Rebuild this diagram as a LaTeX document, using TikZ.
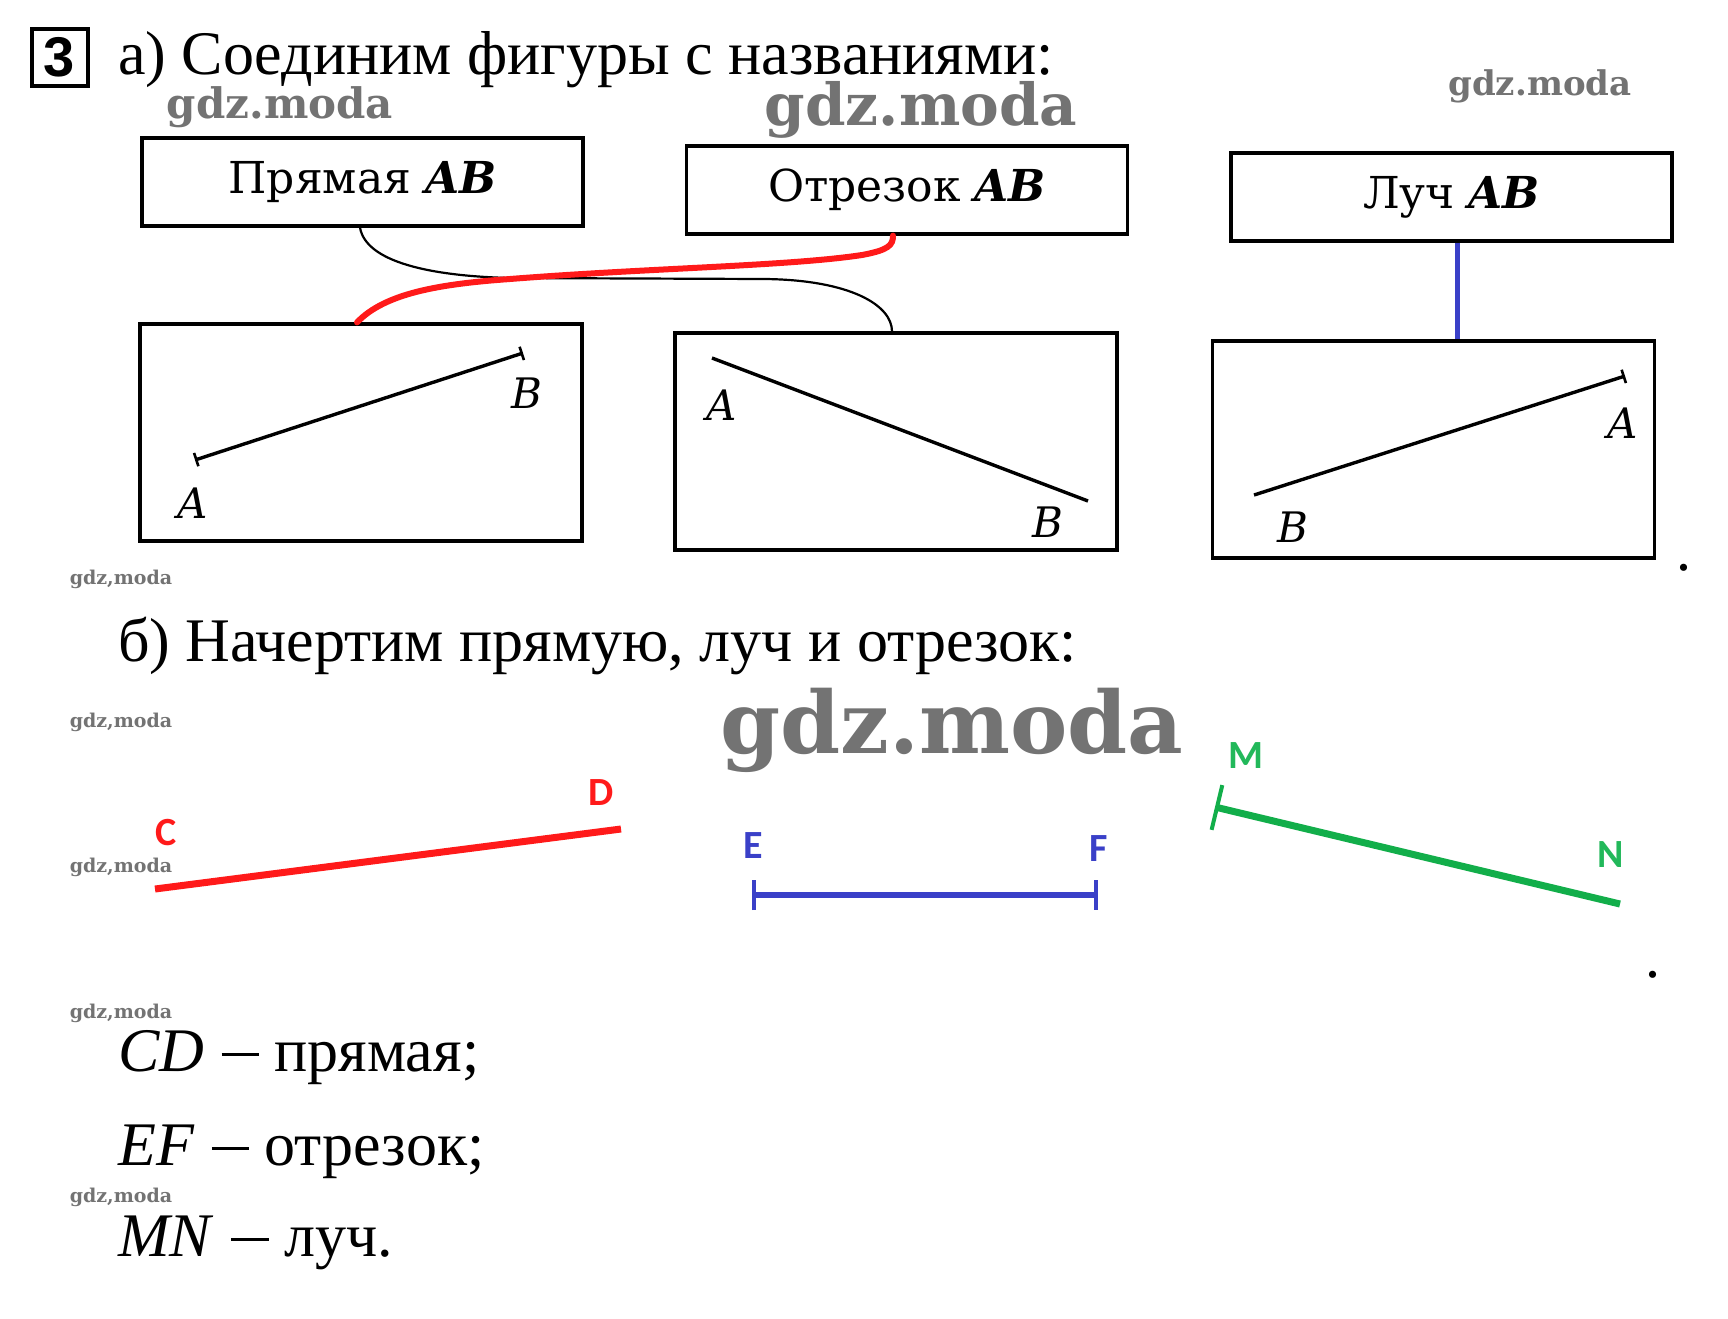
\documentclass[tikz,border=0pt]{standalone}
\usepackage{fontspec}
\setmainfont{Liberation Serif}
\newfontfamily\bookfont{DejaVu Serif}
\newfontfamily\labfont{Carlito}
\newfontfamily\numfont{Liberation Sans}
\usetikzlibrary{arrows.meta,calc}
\definecolor{penred}{HTML}{FF1A1A}
\definecolor{penblue}{HTML}{3A40C8}
\definecolor{pengreen}{HTML}{12AE4A}
\definecolor{labgreen}{HTML}{22B85A}
\definecolor{wmgray}{gray}{0.45}
\newcommand{\longdash}{\hspace{0.28em}\rule[0.24em]{0.6em}{0.045em}\hspace{0.25em}}
\tikzset{
  namebox/.style={draw, line width=3.2pt, minimum width=441pt, minimum height=88pt, inner sep=0pt,
    font=\bookfont\fontsize{44}{50}\selectfont},
  picbox/.style={draw, line width=3.2pt, minimum width=442pt, minimum height=217pt, inner sep=0pt},
  ptlab/.style={font=\bookfont\itshape\fontsize{42}{48}\selectfont, inner sep=0pt},
  colab/.style={font=\labfont\bfseries\fontsize{40}{46}\selectfont, inner sep=0pt},
  figline/.style={line width=3.4pt},
  wire/.style={line width=2.2pt},
  wm/.style={font=\bookfont\bfseries, text=wmgray, inner sep=0pt},
  bigtext/.style={anchor=base west, inner sep=0pt, font=\fontsize{62}{72}\selectfont},
}
\begin{document}
\begin{tikzpicture}[x=1pt,y=-1pt]
\useasboundingbox (0,0) rectangle (1728,1318);
\fill[white] (0,0) rectangle (1728,1318);

% heading
\node[draw, line width=4pt, minimum width=56pt, minimum height=57pt, inner sep=0pt,
  font=\numfont\bfseries\fontsize{56}{60}\selectfont] (num) at (59.5,57) {3};
\node[bigtext] (title) at (118,74) {а) Соединим фигуры с названиями:};

% name boxes
\node[namebox] (b1) at (362.5,182) {Прямая \textbf{\textit{AB}}};
\node[namebox] (b2) at (907,190) {Отрезок \textbf{\textit{AB}}};
\node[namebox] (b3) at (1451.5,197) {Луч \textbf{\textit{AB}}};

% picture boxes
\node[picbox] (b4) at (361,432.5) {};
\node[picbox] (b5) at (896,441.5) {};
\node[picbox] (b6) at (1433.5,449.5) {};

% box 4 : segment
\coordinate (p4a) at (195,460);
\coordinate (p4b) at (523,353);
\draw[figline, {Bar[width=14pt,line width=2.6pt]}-{Bar[width=14pt,line width=2.6pt]}] (p4a) -- (p4b);
\node[ptlab] (l4a) at (193,503) {A};
\node[ptlab] (l4b) at (527,393) {B};

% box 5 : line
\coordinate (p5a) at (712,358);
\coordinate (p5b) at (1088,501);
\draw[figline] (p5a) -- (p5b);
\node[ptlab] (l5a) at (722,405) {A};
\node[ptlab] (l5b) at (1048,522) {B};

% box 6 : ray
\coordinate (p6b) at (1254,495);
\coordinate (p6a) at (1625,376);
\draw[figline, -{Bar[width=14pt,line width=2.6pt]}] (p6b) -- (p6a);
\node[ptlab] (l6a) at (1623,423) {A};
\node[ptlab] (l6b) at (1293,527) {B};

% connectors
\coordinate (kx1) at (360,0);
\coordinate (kx5) at (892,0);
\draw[wire] (b1.south -| kx1) .. controls (366,262) and (430,276) .. (510,278)
  -- (765,279) .. controls (850,280) and (892,305) .. (b5.north -| kx5);
\coordinate (rx4) at (357,0);
\coordinate (rx2) at (893,0);
\draw[penred, line width=6pt, line cap=round] (b4.north -| rx4) .. controls (385,293) and (440,284) .. (510,279)
  .. controls (650,268) and (790,266) .. (862,255) .. controls (889,250) and (893,245) .. (b2.south -| rx2);
\coordinate (bx) at (1457,0);
\draw[penblue, line width=5pt] (b3.south -| bx) -- (b6.north -| bx);

\node[anchor=base, inner sep=0pt, font=\fontsize{60}{70}\selectfont] (dot1) at (1684,570) {.};

% part b
\node[bigtext] (titleb) at (118,661) {б) Начертим прямую, луч и отрезок:};

\coordinate (C) at (155,889);
\coordinate (D) at (621,829);
\draw[penred, line width=7pt] (C) -- (D);
\node[colab, text=penred] (lc) at (166,833) {C};
\node[colab, text=penred] (ld) at (601,793) {D};

\coordinate (E) at (752,895);
\coordinate (F) at (1098,895);
\draw[penblue, line width=6pt, {Bar[width=30pt,line width=4pt]}-{Bar[width=30pt,line width=4pt]}] (E) -- (F);
\node[colab, text=penblue] (le) at (753,846) {E};
\node[colab, text=penblue] (lf) at (1099,849) {F};

\coordinate (M) at (1215,807);
\coordinate (N) at (1620,904);
\draw[pengreen, line width=7pt, {Bar[width=46pt,line width=4pt]}-] (M) -- (N);
\node[colab, text=labgreen] (lm) at (1246,756) {M};
\node[colab, text=labgreen] (ln) at (1611,855) {N};

\node[anchor=base, inner sep=0pt, font=\fontsize{60}{70}\selectfont] (dot2) at (1653,977) {.};

% answers
\node[bigtext] (ans1) at (118,1071) {\textit{CD}\longdash прямая;};
\node[bigtext] (ans2) at (118,1165) {\textit{EF}\longdash отрезок;};
\node[bigtext] (ans3) at (118,1256) {\textit{MN}\longdash луч.};

% watermarks
\node[wm, font=\bookfont\bfseries\fontsize{42}{46}\selectfont] (wm1) at (280,107) {gdz.moda};
\node[wm, font=\bookfont\bfseries\fontsize{58}{62}\selectfont] (wm2) at (921,110) {gdz.moda};
\node[wm, font=\bookfont\bfseries\fontsize{34}{38}\selectfont] (wm3) at (1540,86) {gdz.moda};
\node[wm, font=\bookfont\bfseries\fontsize{86}{90}\selectfont] (wm4) at (952,730) {gdz.moda};
\foreach \yy/\nm in {579/a,722/b,867/c,1013/d,1197/e}
  \node[wm, font=\bookfont\bfseries\fontsize{19}{22}\selectfont] (wms\nm) at (121,\yy) {gdz,moda};
\end{tikzpicture}
\end{document}
